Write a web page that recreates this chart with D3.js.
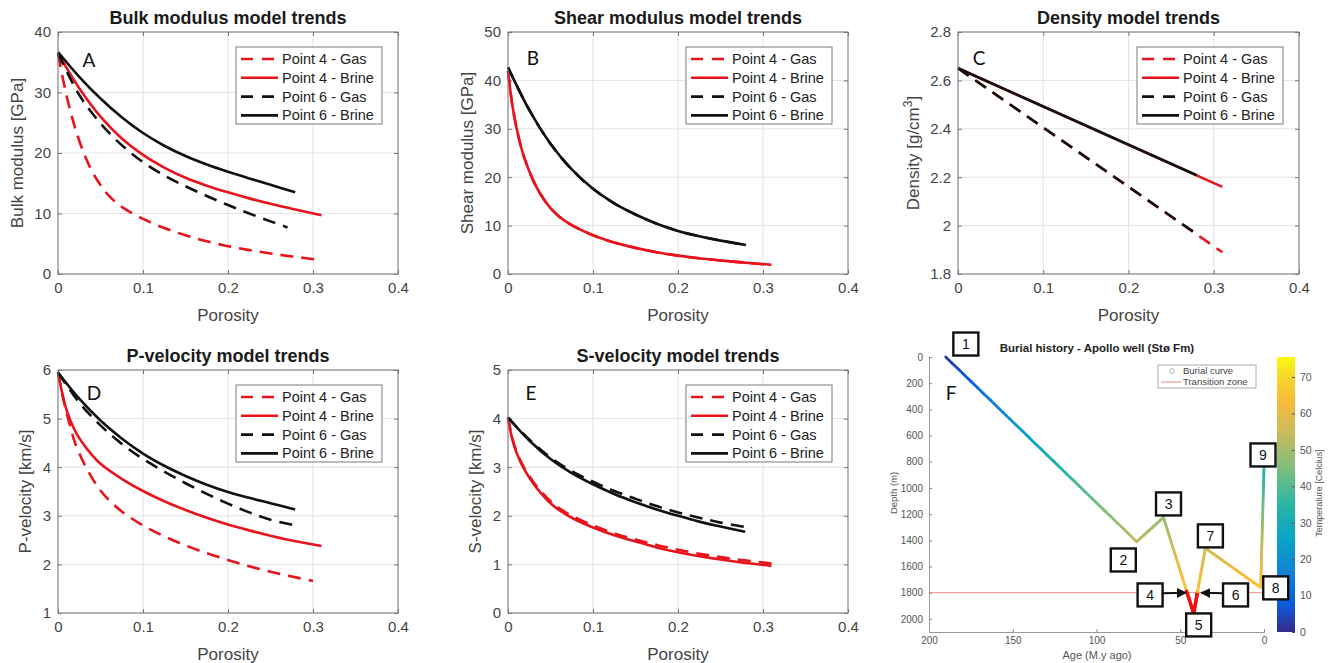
<!DOCTYPE html>
<html>
<head>
<meta charset="utf-8">
<script src="https://cdn.jsdelivr.net/npm/d3@7"></script>
<style>
body { margin: 0; background: #fff; }
svg text { font-family: "Liberation Sans", Arial, sans-serif; }
</style>
</head>
<body>
<svg id="fig" width="1333" height="663"></svg>
<script>
// ---- data ----
const porosityTicks = [0, 0.1, 0.2, 0.3, 0.4];
const legendLabels = ["Point 4 - Gas", "Point 4 - Brine", "Point 6 - Gas", "Point 6 - Brine"];

// bulk modulus [GPa] vs porosity
const bulkTicks = [0, 10, 20, 30, 40];
const bulkGas4 = [[0,36.3],[0.005,32.8],[0.01,29.5],[0.015,26.7],[0.02,24.2],[0.03,20.1],[0.04,17.0],[0.05,14.7],[0.06,12.9],[0.075,11.1],[0.1,9.1],[0.125,7.6],[0.15,6.4],[0.175,5.4],[0.2,4.6],[0.225,3.95],[0.25,3.4],[0.275,2.9],[0.31,2.3]];
const bulkBrine4 = [[0,36.5],[0.025,30.7],[0.05,26.0],[0.075,22.4],[0.1,19.7],[0.125,17.6],[0.15,15.9],[0.175,14.6],[0.2,13.5],[0.225,12.5],[0.25,11.6],[0.275,10.8],[0.31,9.7]];
const bulkGas6 = [[0,36.5],[0.025,29.6],[0.05,24.9],[0.075,21.3],[0.1,18.5],[0.125,16.3],[0.15,14.5],[0.175,12.9],[0.2,11.4],[0.225,10.0],[0.25,8.7],[0.27,7.7]];
const bulkBrine6 = [[0,36.7],[0.025,32.6],[0.05,29.0],[0.075,25.9],[0.1,23.3],[0.125,21.2],[0.15,19.5],[0.175,18.1],[0.2,16.9],[0.225,15.8],[0.25,14.75],[0.279,13.5]];

// shear modulus [GPa] (same for gas and brine)
const shearTicks = [0, 10, 20, 30, 40, 50];
const shearPoint4 = [[0,41.9],[0.005,35.0],[0.01,30.2],[0.015,26.5],[0.02,23.6],[0.03,19.2],[0.04,16.0],[0.05,13.6],[0.06,11.9],[0.075,10.1],[0.1,8.0],[0.125,6.5],[0.15,5.4],[0.175,4.5],[0.2,3.8],[0.225,3.25],[0.25,2.8],[0.275,2.4],[0.31,1.9]];
const shearPoint6 = [[0,42.7],[0.025,33.9],[0.05,26.9],[0.075,21.6],[0.1,17.6],[0.125,14.6],[0.15,12.3],[0.175,10.4],[0.2,8.9],[0.225,7.8],[0.25,6.9],[0.28,6.0]];

// density [g/cm3]
const densTicks = [1.8, 2, 2.2, 2.4, 2.6, 2.8];
const densGas4 = [[0,2.65],[0.31,1.89]];
const densBrine4 = [[0,2.65],[0.31,2.16]];
const densGas6 = [[0,2.65],[0.28,1.965]];
const densBrine6 = [[0,2.65],[0.28,2.208]];

// P-velocity [km/s]
const vpTicks = [1, 2, 3, 4, 5, 6];
const vpGas4 = [[0,5.95],[0.005,5.5],[0.01,5.13],[0.015,4.8],[0.02,4.5],[0.03,4.1],[0.04,3.78],[0.05,3.52],[0.06,3.32],[0.075,3.09],[0.1,2.8],[0.125,2.58],[0.15,2.39],[0.175,2.23],[0.2,2.09],[0.225,1.96],[0.25,1.85],[0.275,1.75],[0.3,1.66]];
const vpBrine4 = [[0,5.95],[0.005,5.52],[0.01,5.18],[0.02,4.75],[0.03,4.47],[0.04,4.25],[0.05,4.07],[0.075,3.76],[0.1,3.51],[0.125,3.3],[0.15,3.12],[0.175,2.96],[0.2,2.82],[0.225,2.7],[0.25,2.59],[0.275,2.49],[0.31,2.38]];
const vpGas6 = [[0,5.95],[0.025,5.33],[0.05,4.86],[0.075,4.48],[0.1,4.17],[0.125,3.91],[0.15,3.67],[0.175,3.45],[0.2,3.25],[0.225,3.07],[0.25,2.92],[0.28,2.8]];
const vpBrine6 = [[0,5.95],[0.025,5.41],[0.05,4.96],[0.075,4.59],[0.1,4.28],[0.125,4.03],[0.15,3.82],[0.175,3.64],[0.2,3.49],[0.225,3.37],[0.25,3.26],[0.279,3.13]];

// S-velocity [km/s]
const vsTicks = [0, 1, 2, 3, 4, 5];
const vsGas4 = [[0,4.02],[0.005,3.6],[0.01,3.32],[0.015,3.12],[0.02,2.96],[0.03,2.69],[0.04,2.48],[0.05,2.3],[0.06,2.16],[0.075,2.0],[0.1,1.8],[0.125,1.64],[0.15,1.51],[0.175,1.4],[0.2,1.3],[0.225,1.22],[0.25,1.15],[0.275,1.09],[0.31,1.02]];
const vsBrine4 = [[0,4.02],[0.005,3.58],[0.01,3.3],[0.015,3.1],[0.02,2.93],[0.03,2.66],[0.04,2.44],[0.05,2.26],[0.06,2.12],[0.075,1.96],[0.1,1.76],[0.125,1.6],[0.15,1.47],[0.175,1.35],[0.2,1.25],[0.225,1.17],[0.25,1.1],[0.275,1.04],[0.31,0.97]];
const vsGas6 = [[0,4.02],[0.025,3.57],[0.05,3.2],[0.075,2.92],[0.1,2.7],[0.125,2.51],[0.15,2.35],[0.175,2.2],[0.2,2.07],[0.225,1.96],[0.25,1.86],[0.279,1.77]];
const vsBrine6 = [[0,4.02],[0.025,3.55],[0.05,3.17],[0.075,2.88],[0.1,2.65],[0.125,2.45],[0.15,2.28],[0.175,2.13],[0.2,2.0],[0.225,1.88],[0.25,1.78],[0.279,1.67]];

// burial history (age M.y ago, depth m, temperature C)
const burialAge = [190, 76, 60, 42, 35, 2, 0];
const burialDepth = [0, 1410, 1225, 1960, 1460, 1760, 850];
const burialTemp = [2, 54, 48, 72, 56, 66, 33];
const transitionDepth = 1800;
const ageTicks = [200, 150, 100, 50, 0];
const depthTicks = [0, 200, 400, 600, 800, 1000, 1200, 1400, 1600, 1800, 2000];
const tempTicks = [0, 10, 20, 30, 40, 50, 60, 70];
const stageNames = ["1", "2", "3", "4", "5", "6", "7", "8", "9"];
const stageAge = [178, 84, 57, 68, 39, 17, 32, -7, 0.6];
const stageDepth = [-99, 1550, 1122, 1817, 2046, 1817, 1366, 1763, 748];

// ---- drawing ----
var svg = d3.select("#fig");
var defs = svg.append("defs");
var seriesColor = ["#e8131b", "#e8131b", "#111", "#111"];
var seriesDash = ["13,8", null, "13,8", null];
var tickColor = "#444";

var panels = [
  {title: "Bulk modulus model trends", ylab: "Bulk modulus [GPa]", letter: "A",
   left: 58, right: 398, top: 32, bottom: 274, yDomain: [0, 40], yTicks: bulkTicks,
   series: [bulkGas4, bulkBrine4, bulkGas6, bulkBrine6], ylabOff: 41, lx: 31, ly: 28},
  {title: "Shear modulus model trends", ylab: "Shear modulus [GPa]", letter: "B",
   left: 508, right: 848, top: 32, bottom: 274, yDomain: [0, 50], yTicks: shearTicks,
   series: [shearPoint4, shearPoint4, shearPoint6, shearPoint6], ylabOff: 41, lx: 25, ly: 26},
  {title: "Density model trends", ylab: "Density [g/cm", sup: "3", ylabEnd: "]", letter: "C",
   left: 958, right: 1299, top: 32, bottom: 274, yDomain: [1.8, 2.8], yTicks: densTicks,
   series: [densGas4, densBrine4, densGas6, densBrine6], ylabOff: 45, lx: 21, ly: 26},
  {title: "P-velocity model trends", ylab: "P-velocity [km/s]", letter: "D",
   left: 58, right: 398, top: 370, bottom: 613, yDomain: [1, 6], yTicks: vpTicks,
   series: [vpGas4, vpBrine4, vpGas6, vpBrine6], ylabOff: 33, lx: 36, ly: 23},
  {title: "S-velocity model trends", ylab: "S-velocity [km/s]", letter: "E",
   left: 508, right: 848, top: 370, bottom: 613, yDomain: [0, 5], yTicks: vsTicks,
   series: [vsGas4, vsBrine4, vsGas6, vsBrine6], ylabOff: 33, lx: 23, ly: 23}
];

panels.forEach(drawPanel);

function drawPanel(p) {
  var x = d3.scaleLinear().domain([0, 0.4]).range([p.left, p.right]);
  var y = d3.scaleLinear().domain(p.yDomain).range([p.bottom, p.top]);
  var g = svg.append("g");

  // grid
  g.append("g").selectAll("line").data(porosityTicks).enter().append("line")
    .attr("x1", d => x(d)).attr("x2", d => x(d))
    .attr("y1", p.top).attr("y2", p.bottom)
    .attr("stroke", "#e3e3e3");
  g.append("g").selectAll("line").data(p.yTicks).enter().append("line")
    .attr("x1", p.left).attr("x2", p.right)
    .attr("y1", d => y(d)).attr("y2", d => y(d))
    .attr("stroke", "#e3e3e3");

  // axes, ticks pointing inwards like matlab
  var fmt = d => String(d);
  var axes = [
    g.append("g").attr("transform", "translate(0," + p.bottom + ")")
      .call(d3.axisBottom(x).tickValues(porosityTicks).tickSize(-4).tickPadding(8).tickFormat(fmt)),
    g.append("g").attr("transform", "translate(" + p.left + ",0)")
      .call(d3.axisLeft(y).tickValues(p.yTicks).tickSize(-4).tickPadding(7).tickFormat(fmt)),
    g.append("g").attr("transform", "translate(0," + p.top + ")")
      .call(d3.axisTop(x).tickValues(porosityTicks).tickSize(-4).tickFormat("")),
    g.append("g").attr("transform", "translate(" + p.right + ",0)")
      .call(d3.axisRight(y).tickValues(p.yTicks).tickSize(-4).tickFormat(""))
  ];
  axes.forEach(function(a) {
    a.select(".domain").remove();
    a.selectAll("line").attr("stroke", "#777");
    a.selectAll("text").attr("fill", tickColor).style("font-size", "15px");
  });

  // curves
  var line = d3.line().x(d => x(d[0])).y(d => y(d[1])).curve(d3.curveCatmullRom.alpha(0.5));
  g.append("g").selectAll("path").data(p.series).enter().append("path")
    .attr("d", line)
    .attr("fill", "none")
    .attr("stroke", (d, i) => seriesColor[i])
    .attr("stroke-width", 2.6)
    .attr("stroke-dasharray", (d, i) => seriesDash[i]);

  // box
  g.append("rect")
    .attr("x", p.left).attr("y", p.top)
    .attr("width", p.right - p.left).attr("height", p.bottom - p.top)
    .attr("fill", "none").attr("stroke", "#7a7a7a");

  // title and labels
  g.append("text")
    .attr("x", (p.left + p.right) / 2).attr("y", p.top - 8)
    .attr("text-anchor", "middle")
    .style("font-size", "18px").style("font-weight", "bold").attr("fill", "#1a1a1a")
    .text(p.title);
  g.append("text")
    .attr("x", (p.left + p.right) / 2).attr("y", p.bottom + 47)
    .attr("text-anchor", "middle")
    .style("font-size", "17px").attr("fill", tickColor)
    .text("Porosity");
  var yl = g.append("text")
    .attr("transform", "translate(" + (p.left - p.ylabOff + 6) + "," + ((p.top + p.bottom) / 2) + ") rotate(-90)")
    .attr("text-anchor", "middle")
    .style("font-size", "17px").attr("fill", tickColor)
    .text(p.ylab);
  if (p.sup) {
    yl.append("tspan").attr("baseline-shift", "super").style("font-size", "12px").text(p.sup);
    yl.append("tspan").text(p.ylabEnd);
  }
  g.append("text")
    .attr("x", p.left + p.lx).attr("y", p.top + p.ly + 7)
    .attr("text-anchor", "middle")
    .style("font-family", "Lato, 'Open Sans', sans-serif")
    .style("font-size", "19px").attr("fill", "#111")
    .text(p.letter);

  // legend
  var lg = g.append("g").attr("transform", "translate(" + (p.right - 162) + "," + (p.top + 15) + ")");
  lg.append("rect").attr("width", 146).attr("height", 77)
    .attr("fill", "#fff").attr("stroke", "#7a7a7a");
  var rows = lg.selectAll("g.row").data(legendLabels).enter().append("g")
    .attr("class", "row")
    .attr("transform", (d, i) => "translate(0," + (12 + i * 18.8) + ")");
  rows.append("line")
    .attr("x1", 5).attr("x2", 42)
    .attr("stroke", (d, i) => seriesColor[i])
    .attr("stroke-width", 2.6)
    .attr("stroke-dasharray", (d, i) => seriesDash[i] ? "12,9" : null);
  rows.append("text")
    .attr("x", 46).attr("dy", "0.35em")
    .style("font-size", "14.5px").attr("fill", "#222")
    .text(d => d);
}

// ---- burial history panel ----
var fx = d3.scaleLinear().domain([200, 0]).range([929, 1264]);
var fy = d3.scaleLinear().domain([0, 2100]).range([357, 632]);
var tempMax = 75.5;
var parula = d3.scaleLinear()
  .domain([0, 8, 16, 25, 35, 45, 55, 63, 70, 75.5])
  .range(["#352a87", "#0b5ce0", "#1282d4", "#07a2c8", "#2ab5a5", "#7fbf7b", "#cbbb5b", "#f8ba3d", "#f6d72a", "#f9fb0e"])
  .interpolate(d3.interpolateRgb);

var gf = svg.append("g");
var fAxisX = gf.append("g").attr("transform", "translate(0,632)")
  .call(d3.axisBottom(fx).tickValues(ageTicks).tickSize(-3).tickPadding(5).tickFormat(d => String(d)));
var fAxisY = gf.append("g").attr("transform", "translate(929,0)")
  .call(d3.axisLeft(fy).tickValues(depthTicks).tickSize(-3).tickPadding(6).tickFormat(d => String(d)));
[fAxisX, fAxisY].forEach(function(a) {
  a.select(".domain").attr("stroke", "#999");
  a.selectAll("line").attr("stroke", "#888");
  a.selectAll("text").attr("fill", "#555").style("font-size", "10px");
});

gf.append("text").attr("x", 1097).attr("y", 352).attr("text-anchor", "middle")
  .style("font-size", "11.5px").style("font-weight", "bold").attr("fill", "#222")
  .text("Burial history - Apollo well (Stø Fm)");
gf.append("text").attr("x", 1097).attr("y", 659).attr("text-anchor", "middle")
  .style("font-size", "11px").attr("fill", "#555").text("Age (M.y ago)");
gf.append("text").attr("transform", "translate(897,493) rotate(-90)").attr("text-anchor", "middle")
  .style("font-size", "9.5px").attr("fill", "#555").text("Depth (m)");

// transition zone
gf.append("line")
  .attr("x1", fx(200)).attr("x2", fx(0))
  .attr("y1", fy(transitionDepth)).attr("y2", fy(transitionDepth))
  .attr("stroke", "#f08a8a").attr("stroke-width", 1);

// colorbar
var cy = d3.scaleLinear().domain([0, tempMax]).range([632, 357]);
var grad = defs.append("linearGradient").attr("id", "parula")
  .attr("x1", 0).attr("y1", 1).attr("x2", 0).attr("y2", 0);
grad.selectAll("stop").data(parula.domain()).enter().append("stop")
  .attr("offset", d => d / tempMax)
  .attr("stop-color", d => parula(d));
gf.append("rect").attr("x", 1277).attr("y", 357).attr("width", 18).attr("height", 275)
  .attr("fill", "url(#parula)");
var cAxis = gf.append("g").attr("transform", "translate(1295,0)")
  .call(d3.axisRight(cy).tickValues(tempTicks).tickSize(-3).tickPadding(5));
cAxis.select(".domain").remove();
cAxis.selectAll("line").attr("stroke", "#555");
cAxis.selectAll("text").attr("fill", "#555").style("font-size", "10.5px");
gf.append("text").attr("transform", "translate(1322,493) rotate(-90)").attr("text-anchor", "middle")
  .style("font-size", "9px").attr("fill", "#555").text("Temperature [Celcius]");

// burial curve coloured by temperature, red below the transition zone
var pieces = [];
for (var i = 0; i < burialAge.length - 1; i++) {
  var n = 30;
  for (var k = 0; k < n; k++) {
    var t0 = k / n, t1 = (k + 1) / n;
    var a0 = burialAge[i] + (burialAge[i + 1] - burialAge[i]) * t0;
    var a1 = burialAge[i] + (burialAge[i + 1] - burialAge[i]) * t1;
    var d0 = burialDepth[i] + (burialDepth[i + 1] - burialDepth[i]) * t0;
    var d1 = burialDepth[i] + (burialDepth[i + 1] - burialDepth[i]) * t1;
    var tm = burialTemp[i] + (burialTemp[i + 1] - burialTemp[i]) * (t0 + t1) / 2;
    pieces.push({a0: a0, a1: a1, d0: d0, d1: d1, temp: tm, deep: (d0 + d1) / 2 > transitionDepth});
  }
}
gf.append("g").selectAll("line").data(pieces).enter().append("line")
  .attr("x1", d => fx(d.a0)).attr("x2", d => fx(d.a1))
  .attr("y1", d => fy(d.d0)).attr("y2", d => fy(d.d1))
  .attr("stroke", d => d.deep ? "#f01010" : parula(d.temp))
  .attr("stroke-width", d => d.deep ? 3.5 : 2.8)
  .attr("stroke-linecap", "round");

// arrows toward points 4 and 6
defs.append("marker").attr("id", "arr").attr("viewBox", "0 0 10 10")
  .attr("refX", 9).attr("refY", 5).attr("markerWidth", 5).attr("markerHeight", 5)
  .attr("orient", "auto")
  .append("path").attr("d", "M0,0L10,5L0,10z").attr("fill", "#111");
var arrows = [[60.3, 1805, 46.6, 1800], [24.5, 1805, 37.5, 1800]];
gf.append("g").selectAll("line").data(arrows).enter().append("line")
  .attr("x1", d => fx(d[0])).attr("y1", d => fy(d[1]))
  .attr("x2", d => fx(d[2])).attr("y2", d => fy(d[3]))
  .attr("stroke", "#111").attr("stroke-width", 2)
  .attr("marker-end", "url(#arr)");

// legend
var fl = gf.append("g").attr("transform", "translate(1158,365)");
fl.append("rect").attr("width", 98).attr("height", 23).attr("fill", "#fff").attr("stroke", "#aaa");
fl.append("circle").attr("cx", 14).attr("cy", 6).attr("r", 2.5).attr("fill", "none").attr("stroke", "#bbb");
fl.append("line").attr("x1", 3).attr("x2", 23).attr("y1", 17).attr("y2", 17).attr("stroke", "#f08a8a");
fl.append("text").attr("x", 25).attr("y", 6).attr("dy", "0.35em").style("font-size", "9.5px").attr("fill", "#444").text("Burial curve");
fl.append("text").attr("x", 25).attr("y", 17).attr("dy", "0.35em").style("font-size", "9.5px").attr("fill", "#444").text("Transition zone");

// numbered stage boxes
var stg = gf.append("g").selectAll("g").data(stageNames).enter().append("g")
  .attr("transform", (d, i) => "translate(" + fx(stageAge[i]) + "," + fy(stageDepth[i]) + ")");
stg.append("rect").attr("x", -12.5).attr("y", -11.5).attr("width", 25).attr("height", 23)
  .attr("fill", "#fff").attr("stroke", "#111").attr("stroke-width", 2.4);
stg.append("text").attr("text-anchor", "middle").attr("dy", "0.36em")
  .style("font-size", "14px").attr("fill", "#111").text(d => d);

gf.append("text").attr("x", 951).attr("y", 400)
  .attr("text-anchor", "middle")
  .style("font-family", "Lato, 'Open Sans', sans-serif")
  .style("font-size", "19px").attr("fill", "#111").text("F");
</script>
</body>
</html>
